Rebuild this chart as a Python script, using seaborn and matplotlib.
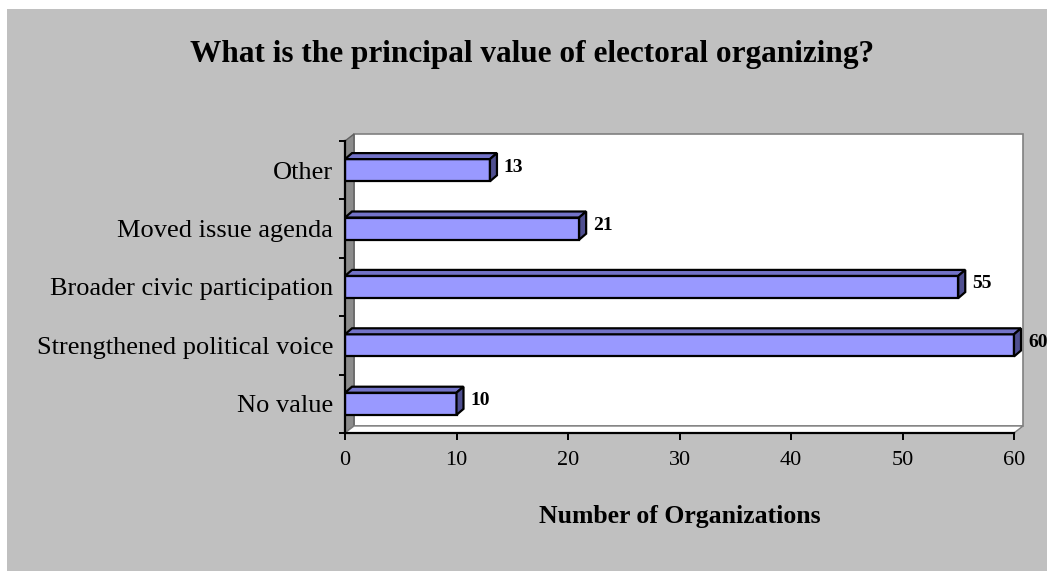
import matplotlib
matplotlib.use("Agg")
import matplotlib.pyplot as plt
from matplotlib.patches import Polygon, Rectangle
from matplotlib.ticker import FixedLocator
import seaborn as sns
import pandas as pd

# Survey responses
categories = ["Other", "Moved issue agenda", "Broader civic participation",
              "Strengthened political voice", "No value"]
counts = [13, 21, 55, 60, 10]
x_ticks = [0, 10, 20, 30, 40, 50, 60]

title = "What is the principal value of electoral organizing?"
x_title = "Number of Organizations"

sns.set_theme(style="white")
plt.rcParams["font.family"] = ["Liberation Serif", "DejaVu Serif"]

W, H, DPI = 1047, 571, 100
BG = "#C0C0C0"
fig = plt.figure(figsize=(W / DPI, H / DPI), dpi=DPI, facecolor=BG)

# thin white margin along the top and left edges of the chart
fig.add_artist(Rectangle((0, (H - 9) / H), 1, 9 / H, transform=fig.transFigure,
                         facecolor="white", edgecolor="none", zorder=-10))
fig.add_artist(Rectangle((0, 0), 7 / W, 1, transform=fig.transFigure,
                         facecolor="white", edgecolor="none", zorder=-10))

ax_l, ax_b, ax_w, ax_h = 345, H - 433, 669, 292
ax = fig.add_axes([ax_l / W, ax_b / H, ax_w / W, ax_h / H])
ax.set_facecolor("none")

df = pd.DataFrame({"category": categories, "count": counts})
sns.barplot(data=df, x="count", y="category", orient="h", width=0.38,
            color="#9999FF", saturation=1, edgecolor="black", linewidth=1.6,
            ax=ax, zorder=3)

ax.set_xlim(x_ticks[0], x_ticks[-1])
ax.set_ylim(len(categories) - 0.5, -0.5)

# 3-D walls behind the plot (depth in pixels)
wall_dx, wall_dy = 9 / ax_w, 7 / ax_h
back = Rectangle((wall_dx, wall_dy), 1, 1, transform=ax.transAxes, clip_on=False,
                 facecolor="white", edgecolor="#808080", linewidth=1.2, zorder=0)
ax.add_patch(back)
side = Polygon([(0, 0), (wall_dx, wall_dy), (wall_dx, 1 + wall_dy), (0, 1)],
               closed=True, transform=ax.transAxes, clip_on=False,
               facecolor="#8C8C8C", edgecolor="#606060", linewidth=1, zorder=1)
ax.add_patch(side)
floor = Polygon([(0, 0), (wall_dx, wall_dy), (1 + wall_dx, wall_dy), (1, 0)],
                closed=True, transform=ax.transAxes, clip_on=False,
                facecolor="white", edgecolor="#808080", linewidth=1, zorder=1)
ax.add_patch(floor)

# 3-D bar faces
span_x = x_ticks[-1] - x_ticks[0]
bdx = 7 * span_x / ax_w
bdy = 6 * len(categories) / ax_h
for bar in list(ax.patches):
    if not isinstance(bar, Rectangle) or bar is back:
        continue
    x0, y0 = bar.get_x(), bar.get_y()
    w, h = bar.get_width(), bar.get_height()
    top = Polygon([(x0, y0), (x0 + w, y0), (x0 + w + bdx, y0 - bdy), (x0 + bdx, y0 - bdy)],
                  closed=True, facecolor="#7373C8", edgecolor="black", linewidth=1.6,
                  zorder=3, clip_on=False)
    rside = Polygon([(x0 + w, y0), (x0 + w + bdx, y0 - bdy), (x0 + w + bdx, y0 + h - bdy),
                     (x0 + w, y0 + h)],
                    closed=True, facecolor="#4F4F90", edgecolor="black", linewidth=1.6,
                    zorder=3, clip_on=False)
    ax.add_patch(top)
    ax.add_patch(rside)
    ax.annotate(f"{w:g}", xy=(x0 + w + bdx, y0 + h / 2 - bdy / 2), xytext=(5, 0),
                textcoords="offset points", ha="left", va="center",
                fontsize=14, fontweight="bold", color="black", zorder=5,
                annotation_clip=False)

# axes, ticks, labels
for s in ["top", "right"]:
    ax.spines[s].set_visible(False)
for s in ["left", "bottom"]:
    ax.spines[s].set_color("black")
    ax.spines[s].set_linewidth(1.6)
    ax.spines[s].set_zorder(6)

ax.set_xticks(x_ticks)
ax.set_xticklabels([str(t) for t in x_ticks])
ax.tick_params(axis="x", direction="out", length=5, width=1.4, color="black",
               pad=8, labelsize=16, labelcolor="black", bottom=True)
ax.tick_params(axis="y", which="major", length=0, pad=8.5, labelsize=19,
               labelcolor="black", left=True)
ax.yaxis.set_minor_locator(FixedLocator([i - 0.5 for i in range(len(categories) + 1)]))
ax.tick_params(axis="y", which="minor", direction="out", length=4.5, width=1.4,
               color="black", left=True)
ax.set_ylabel("")
ax.set_xlabel(x_title, fontsize=18.5, fontweight="bold", color="black")
ax.xaxis.label.set_verticalalignment("baseline")
ax.xaxis.set_label_coords(0.5, -(523 - 433) / ax_h)

fig.text(532 / W, (H - 62) / H, title, ha="center", va="baseline",
         fontsize=22.5, fontweight="bold", color="black")

fig.savefig("out.png", dpi=DPI, facecolor=fig.get_facecolor())
